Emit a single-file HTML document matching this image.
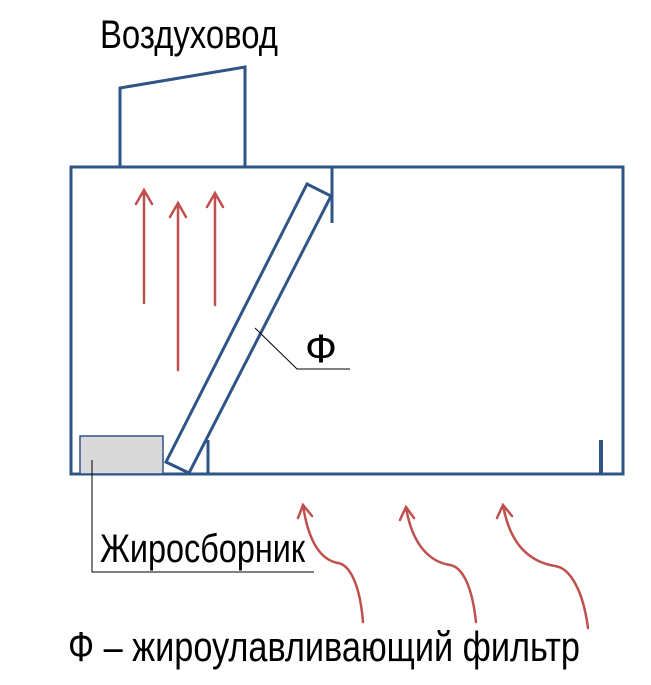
<!DOCTYPE html>
<html><head><meta charset="utf-8"><style>html,body{margin:0;padding:0;background:#fff}svg{display:block}</style></head>
<body>
<svg width="651" height="685" viewBox="0 0 651 685" xmlns="http://www.w3.org/2000/svg" font-family="'Liberation Sans', sans-serif">
<g fill="none" stroke="#2f5587" stroke-width="3">
<rect x="71" y="167" width="552" height="307"/>
<polyline points="120,167 120,88 245,67 245,167"/>
<polygon points="307,184 331,196 189,473 166,462" stroke-linejoin="miter"/>
<line x1="332" y1="167" x2="332" y2="223"/>
<line x1="208" y1="440" x2="208" y2="474"/>
<line x1="601" y1="440" x2="601" y2="474" stroke-width="4"/>
</g>
<rect x="80" y="436" width="83" height="38" fill="#d9d9d9" stroke="#2f5587" stroke-width="1.5"/>
<g fill="none" stroke="#000" stroke-width="1">
<polyline points="92,460 92,572 314,572"/>
<polyline points="255,328 297,369 350,369"/>
</g>
<g fill="none" stroke="#c0504d" stroke-width="2.5" stroke-linecap="round">
<path d="M144,303 L144,190 M136,204 L144,190 L152,204"/>
<path d="M178,370 L178,203 M170,217 L178,203 L186,217"/>
<path d="M215,305 L215,193 M207,207 L215,193 L223,207"/>
<path d="M363,622 C360,585 350,565 338,563 C320,560 308,540 303,505 M298,518 L303,505 L312,516"/>
<path d="M476,622 C472,585 462,567 450,565 C430,562 412,545 406,507 M400,520 L406,507 L414,518"/>
<path d="M588,628 C583,590 570,568 555,566 C530,562 510,545 503,505 M497,518 L503,505 L512,516"/>
</g>
<g fill="#000">
<text x="100" y="48" font-size="40" textLength="178" lengthAdjust="spacingAndGlyphs">Воздуховод</text>
<text x="305" y="362" font-size="40" textLength="32" lengthAdjust="spacingAndGlyphs">Ф</text>
<text x="100" y="562" font-size="40" textLength="205" lengthAdjust="spacingAndGlyphs">Жиросборник</text>
<text x="68" y="661" font-size="42" textLength="512" lengthAdjust="spacingAndGlyphs">Ф – жироулавливающий фильтр</text>
</g>
</svg>
</body></html>
